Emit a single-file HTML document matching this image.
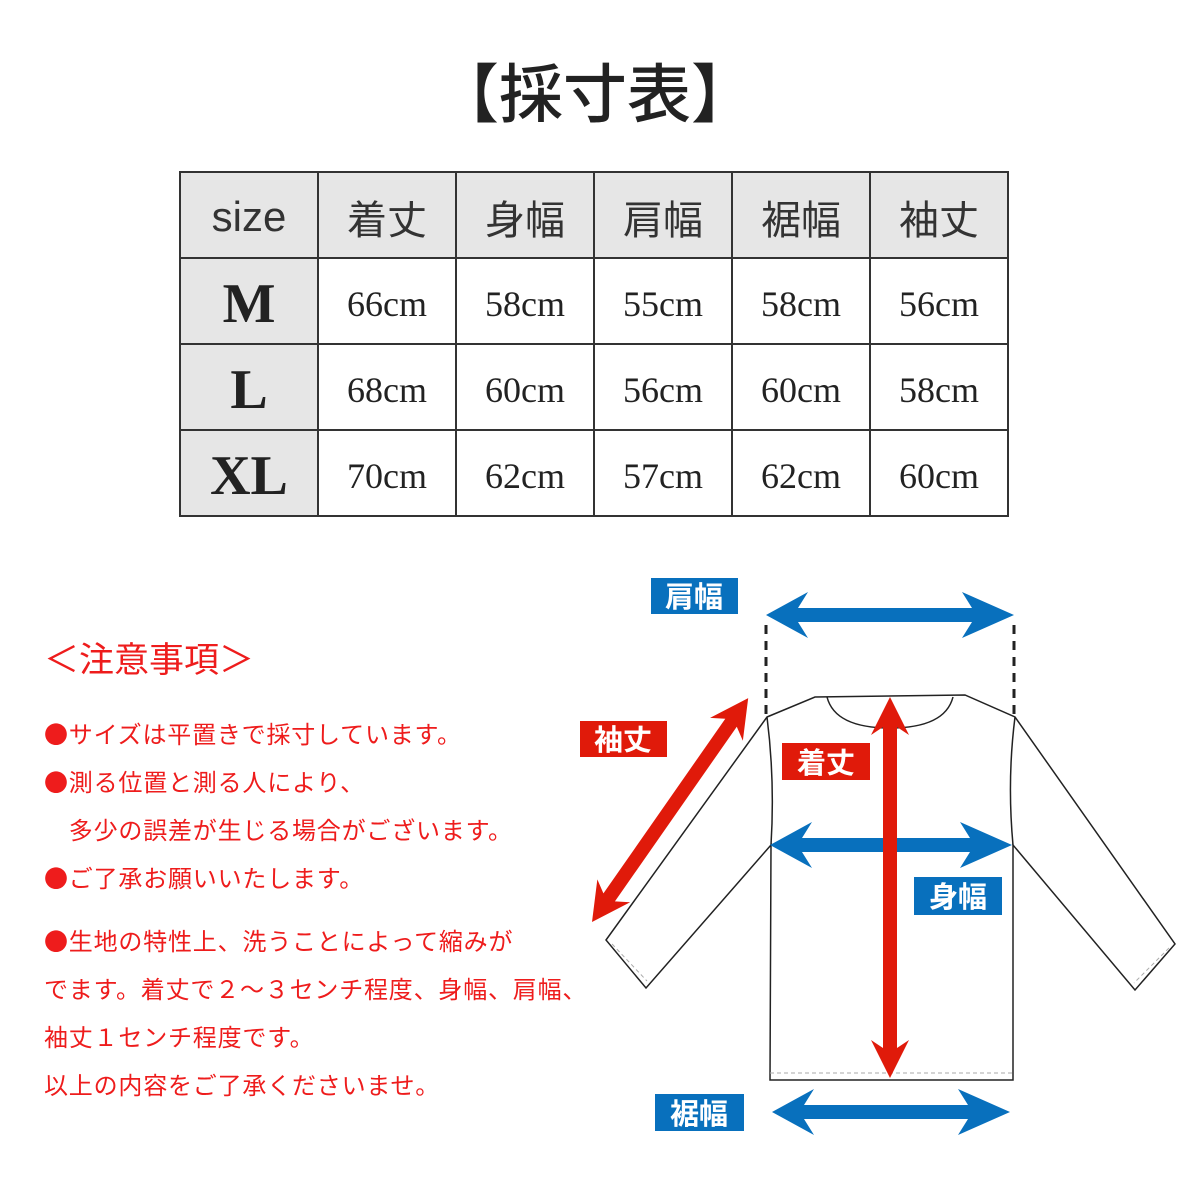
<!DOCTYPE html>
<html><head><meta charset="utf-8"><style>
body{margin:0;width:1200px;height:1200px;background:#fff;position:relative;overflow:hidden;font-family:"Liberation Sans","Noto Sans CJK JP",sans-serif}
.a{position:absolute;white-space:nowrap}
table{position:absolute;left:179px;top:171px;border-collapse:collapse;table-layout:fixed}
td{border:2px solid #333;width:136px;height:78px;text-align:center;padding:6px 0 0 0;color:#222}
.h{background:#e6e6e6;font-size:40px;font-family:"Noto Sans CJK JP",sans-serif;color:#333;height:80px;padding-top:4px}
.s{background:#e6e6e6;font-family:"Liberation Serif",serif;font-weight:bold;font-size:56px}
.n{font-family:"Liberation Serif",serif;font-size:36px}
.r{color:#ee1c1c;font-size:24px;font-family:"Noto Sans CJK JP",sans-serif;line-height:24px;letter-spacing:0.8px}
</style></head><body>
<div class="a" style="left:0;width:1190px;top:52px;text-align:center;font-size:64px;line-height:76px;font-family:'Noto Sans CJK JP',sans-serif;font-weight:500;color:#222">【採寸表】</div>
<table>
<tr><td class="h" style="font-family:'Liberation Sans',sans-serif;font-size:42px">size</td><td class="h">着丈</td><td class="h">身幅</td><td class="h">肩幅</td><td class="h">裾幅</td><td class="h">袖丈</td></tr>
<tr><td class="s">M</td><td class="n">66cm</td><td class="n">58cm</td><td class="n">55cm</td><td class="n">58cm</td><td class="n">56cm</td></tr>
<tr><td class="s">L</td><td class="n">68cm</td><td class="n">60cm</td><td class="n">56cm</td><td class="n">60cm</td><td class="n">58cm</td></tr>
<tr><td class="s">XL</td><td class="n">70cm</td><td class="n">62cm</td><td class="n">57cm</td><td class="n">62cm</td><td class="n">60cm</td></tr>
</table>
<div class="a r" style="left:44px;top:638px;font-size:35px;line-height:40px;letter-spacing:0">＜注意事項＞</div>
<div class="a r" style="left:44px;top:721px">●サイズは平置きで採寸しています。</div>
<div class="a r" style="left:44px;top:769px">●測る位置と測る人により、</div>
<div class="a r" style="left:44px;top:817px">　多少の誤差が生じる場合がございます。</div>
<div class="a r" style="left:44px;top:865px">●ご了承お願いいたします。</div>
<div class="a r" style="left:44px;top:928px">●生地の特性上、洗うことによって縮みが</div>
<div class="a r" style="left:44px;top:976px">でます。着丈で２～３センチ程度、身幅、肩幅、</div>
<div class="a r" style="left:44px;top:1024px">袖丈１センチ程度です。</div>
<div class="a r" style="left:44px;top:1072px">以上の内容をご了承くださいませ。</div>
<svg class="a" style="left:0;top:0" width="1200" height="1200">
<g fill="none" stroke="#222" stroke-width="1.5">
<path d="M767,717 L815,697 L965,695 L1015,717 L1175,944 L1135,990 L1013,845 L1013,1080 L770,1080 L771,845 L646,988 L606,940 Z"/>
<path d="M827,697 Q835,728 890,728 Q945,728 953,697"/>
<path d="M767,717 Q775,780 771,845 M1015,717 Q1007,780 1013,845"/>
</g>
<g fill="none" stroke="#aaa" stroke-width="1" stroke-dasharray="4,3">
<path d="M770,1073 L1013,1073 M612,944 L647,981 M1169,948 L1134,983"/>
</g>
<g stroke="#222" stroke-width="3" stroke-dasharray="9,7"><path d="M766,625 V715 M1014,625 V715"/></g>
<g fill="#0870bd">
<path transform="translate(766,615)" d="M0,0 L42,-23 L32,-7 L206,-7 L196,-23 L248,0 L196,23 L206,7 L32,7 L42,23 Z"/>
<path transform="translate(770,845)" d="M0,0 L42,-23 L32,-7 L200,-7 L190,-23 L242,0 L190,23 L200,7 L32,7 L42,23 Z"/>
<path transform="translate(772,1112)" d="M0,0 L42,-23 L32,-7 L196,-7 L186,-23 L238,0 L186,23 L196,7 L32,7 L42,23 Z"/>
<rect x="651" y="578" width="87" height="36"/><rect x="914" y="877" width="88" height="38"/><rect x="655" y="1094" width="89" height="37"/>
</g>
<g fill="#e01a0a">
<path transform="translate(890,697) rotate(90)" d="M0,0 L38,-19 L30,-7 L351,-7 L343,-19 L381,0 L343,19 L351,7 L30,7 L38,19 Z"/>
<path transform="translate(592,922) rotate(-55.1)" d="M0,0 L38,-20 L30,-7 L243,-7 L235,-20 L273,0 L235,20 L243,7 L30,7 L38,20 Z"/>
<rect x="580" y="721" width="87" height="36"/><rect x="782" y="743" width="88" height="37"/>
</g>
<g fill="#fff" font-family="Noto Sans CJK JP,sans-serif" font-weight="bold" font-size="29" text-anchor="middle">
<text x="694" y="607">肩幅</text><text x="623" y="750">袖丈</text><text x="826" y="773">着丈</text><text x="958" y="907">身幅</text><text x="699" y="1124">裾幅</text>
</g>
</svg>
</body></html>
